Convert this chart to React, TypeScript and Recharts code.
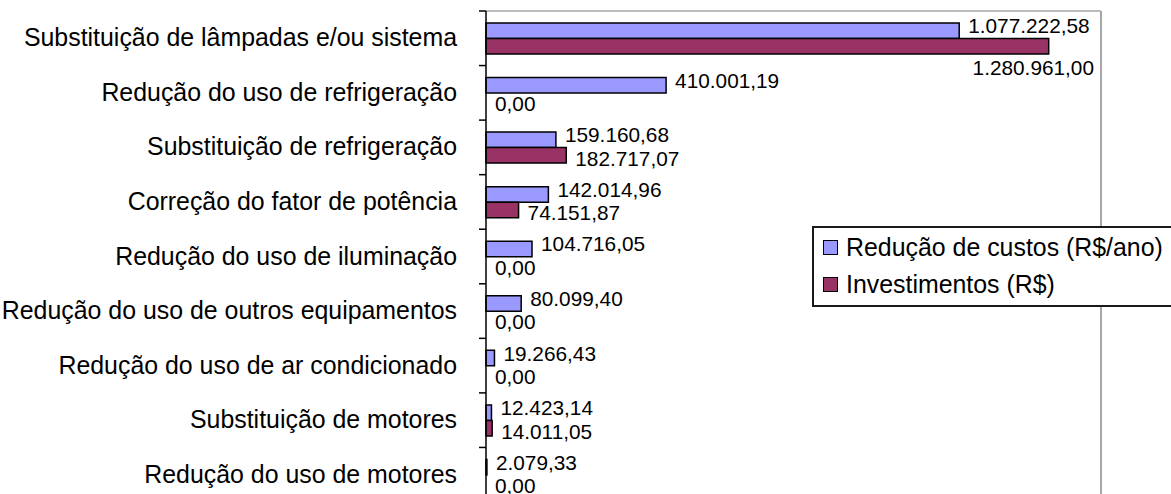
import React from 'react';
import { BarChart, Bar, XAxis, YAxis, LabelList, Legend, ReferenceLine } from 'recharts';

const categories = [
  'Substituição de lâmpadas e/ou sistema',
  'Redução do uso de refrigeração',
  'Substituição de refrigeração',
  'Correção do fator de potência',
  'Redução do uso de iluminação',
  'Redução do uso de outros equipamentos',
  'Redução do uso de ar condicionado',
  'Substituição de motores',
  'Redução do uso de motores',
];
const reducaoCustos = [1077222.58, 410001.19, 159160.68, 142014.96, 104716.05, 80099.4, 19266.43, 12423.14, 2079.33];
const investimentos = [1280961.0, 0, 182717.07, 74151.87, 0, 0, 0, 14011.05, 0];
const seriesNames = ['Redução de custos (R$/ano)', 'Investimentos (R$)'];
const seriesColors = ['#9999FF', '#993366'];
const xDomain = [0, 1400000];

const data = categories.map((c, i) => ({ name: c, reducao: reducaoCustos[i], invest: investimentos[i] }));

const W = 1171;
const H = 510;
const M = { top: 10, right: 70, bottom: 8, left: 0 };
const TOP_AXIS_H = 1;
const Y_AXIS_W = 486;
const plotRight = W - M.right;
const bandHalfFallback = (H - M.top - TOP_AXIS_H - M.bottom) / categories.length / 2;
const FONT = '"Liberation Sans", Arial, Helvetica, sans-serif';
const LABEL_FS = 20.8;
const CAT_FS = 24.9;
const BLUE_DY = -5;
const RED_DY = 3;

function fmt(v: number): string {
  const [i, d] = v.toFixed(2).split('.');
  return i.replace(/\B(?=(\d{3})+(?!\d))/g, '.') + ',' + d;
}
function textWidth(s: string, fs: number): number {
  let w = 0;
  for (const ch of s) w += ch === '.' || ch === ',' ? 0.278 : 0.556;
  return w * fs;
}

function valueText(value: number, barX: number, barW: number, barCy: number, dy: number, key: string) {
  const text = fmt(value);
  let tx = barX + barW + 9;
  let anchor: 'start' | 'end' = 'start';
  let center = barCy + dy;
  if (tx + textWidth(text, LABEL_FS) > plotRight - 2) {
    tx = plotRight - 7;
    anchor = 'end';
    center = barCy + 21.5;
  }
  return (
    <text key={key} x={tx} y={center + 0.358 * LABEL_FS} textAnchor={anchor} fontFamily={FONT} fontSize={LABEL_FS} fill="#000">
      {text}
    </text>
  );
}

function readBox(props: any) {
  const vb = props.viewBox || {};
  return {
    x: Number(props.x ?? vb.x),
    y: Number(props.y ?? vb.y),
    width: Number(props.width ?? vb.width ?? 0),
    height: Number(props.height ?? vb.height ?? 0),
  };
}

// Blue series label; also draws the label of a zero-valued second series bar (which has no rectangle)
const blueLabel = (props: any) => {
  const { x, y, width, height } = readBox(props);
  const idx = Number(props.index);
  const out = [valueText(Number(props.value), x, width, y + height / 2, BLUE_DY, 'b')];
  const inv = investimentos[idx];
  if (inv === 0) {
    out.push(valueText(inv, x, 0, y + height * 1.5, RED_DY, 'r'));
  }
  return <g>{out}</g>;
};

const redLabel = (props: any) => {
  const { x, y, width, height } = readBox(props);
  if (Number(props.value) === 0) return null;
  return valueText(Number(props.value), x, width, y + height / 2, RED_DY, 'r');
};

const CategoryTick = (props: any) => {
  const { x, y, payload } = props;
  const half = payload && typeof payload.offset === 'number' && payload.offset > 0 ? payload.offset : bandHalfFallback;
  return (
    <g>
      <text x={x} y={y + 8} textAnchor="end" fontFamily={FONT} fontSize={CAT_FS} fill="#000">
        {payload.value}
      </text>
      <line x1={x + 22} x2={x + 29} y1={y - half} y2={y - half} stroke="#000" strokeWidth={1.5} />
    </g>
  );
};

const renderLegend = () => (
  <div
    style={{
      boxSizing: 'border-box',
      width: 362,
      height: 81,
      border: '2px solid #1a1a1a',
      background: '#fff',
      paddingTop: 1,
    }}
  >
    {seriesNames.map((n, i) => (
      <div key={n} style={{ height: 37, display: 'flex', alignItems: 'center', paddingLeft: 9 }}>
        <span
          style={{
            display: 'inline-block',
            width: 15,
            height: 15,
            boxSizing: 'border-box',
            border: '1.5px solid #000',
            background: seriesColors[i],
            marginRight: 8,
            flex: 'none',
          }}
        />
        <span style={{ fontFamily: FONT, fontSize: CAT_FS, color: '#000', lineHeight: '37px', whiteSpace: 'nowrap' }}>
          {n}
        </span>
      </div>
    ))}
  </div>
);

export default function App() {
  return (
    <div style={{ position: 'fixed', left: 0, top: 0, width: W, height: 494, overflow: 'hidden', background: '#fff' }}>
      <BarChart width={W} height={H} data={data} layout="vertical" margin={M} barGap={0}>
        <XAxis
          type="number"
          orientation="top"
          domain={xDomain}
          height={TOP_AXIS_H}
          tick={false}
          tickLine={false}
          axisLine={{ stroke: '#a6a6a6', strokeWidth: 1.5 }}
        />
        <YAxis
          type="category"
          dataKey="name"
          width={Y_AXIS_W}
          tick={<CategoryTick />}
          tickLine={false}
          tickSize={7}
          tickMargin={22}
          interval={0}
          axisLine={{ stroke: '#000', strokeWidth: 1.5 }}
        />
        <ReferenceLine x={xDomain[1]} stroke="#a6a6a6" strokeWidth={2} />
        <Bar
          dataKey="reducao"
          name={seriesNames[0]}
          fill={seriesColors[0]}
          stroke="#000"
          strokeWidth={1.5}
          barSize={15.5}
          isAnimationActive={false}
        >
          <LabelList dataKey="reducao" content={blueLabel} />
        </Bar>
        <Bar
          dataKey="invest"
          name={seriesNames[1]}
          fill={seriesColors[1]}
          stroke="#000"
          strokeWidth={1.5}
          barSize={15.5}
          isAnimationActive={false}
        >
          <LabelList dataKey="invest" content={redLabel} />
        </Bar>
        <Legend
          layout="vertical"
          align="center"
          verticalAlign="middle"
          wrapperStyle={{ left: 812, top: 226, width: 362, height: 81 }}
          content={renderLegend}
        />
      </BarChart>
    </div>
  );
}
